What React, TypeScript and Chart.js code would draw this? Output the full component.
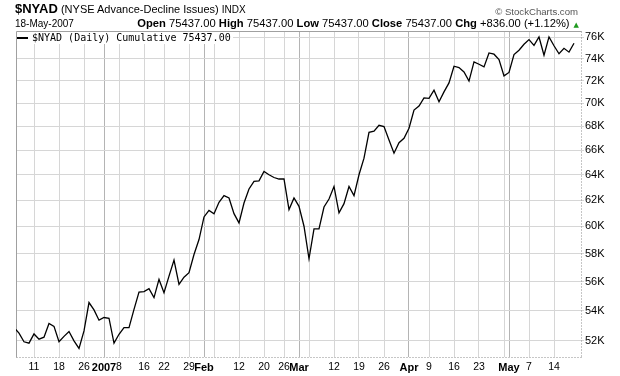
import React, { useEffect, useRef } from "react";
import { Chart, registerables } from "chart.js";

Chart.register(...registerables);

// Trading days (NYSE) shown on the chart
const dates: string[] = [
  "2006-12-05", "2006-12-06", "2006-12-07", "2006-12-08",
  "2006-12-11", "2006-12-12", "2006-12-13", "2006-12-14", "2006-12-15",
  "2006-12-18", "2006-12-19", "2006-12-20", "2006-12-21", "2006-12-22",
  "2006-12-26", "2006-12-27", "2006-12-28", "2006-12-29",
  "2007-01-03", "2007-01-04", "2007-01-05",
  "2007-01-08", "2007-01-09", "2007-01-10", "2007-01-11", "2007-01-12",
  "2007-01-16", "2007-01-17", "2007-01-18", "2007-01-19",
  "2007-01-22", "2007-01-23", "2007-01-24", "2007-01-25", "2007-01-26",
  "2007-01-29", "2007-01-30", "2007-01-31", "2007-02-01", "2007-02-02",
  "2007-02-05", "2007-02-06", "2007-02-07", "2007-02-08", "2007-02-09",
  "2007-02-12", "2007-02-13", "2007-02-14", "2007-02-15", "2007-02-16",
  "2007-02-20", "2007-02-21", "2007-02-22", "2007-02-23",
  "2007-02-26", "2007-02-27", "2007-02-28", "2007-03-01", "2007-03-02",
  "2007-03-05", "2007-03-06", "2007-03-07", "2007-03-08", "2007-03-09",
  "2007-03-12", "2007-03-13", "2007-03-14", "2007-03-15", "2007-03-16",
  "2007-03-19", "2007-03-20", "2007-03-21", "2007-03-22", "2007-03-23",
  "2007-03-26", "2007-03-27", "2007-03-28", "2007-03-29", "2007-03-30",
  "2007-04-02", "2007-04-03", "2007-04-04", "2007-04-05",
  "2007-04-09", "2007-04-10", "2007-04-11", "2007-04-12", "2007-04-13",
  "2007-04-16", "2007-04-17", "2007-04-18", "2007-04-19", "2007-04-20",
  "2007-04-23", "2007-04-24", "2007-04-25", "2007-04-26", "2007-04-27",
  "2007-04-30", "2007-05-01", "2007-05-02", "2007-05-03", "2007-05-04",
  "2007-05-07", "2007-05-08", "2007-05-09", "2007-05-10", "2007-05-11",
  "2007-05-14", "2007-05-15", "2007-05-16", "2007-05-17", "2007-05-18",
];

// $NYAD cumulative advance-decline line (daily close)
const values: number[] = [
  52890, 52500, 51940, 51850,
  52450, 52110, 52240, 53140, 52950,
  51940, 52290, 52610, 52000, 51510,
  52650, 54550, 54050, 53360,
  53540, 53490, 51850,
  52430, 52870, 52870, 54090, 55270,
  55300, 55510, 54890, 56150,
  55230, 56380, 57520, 55800, 56310,
  56620, 57930, 59020, 60710, 61210,
  60960, 61830, 62350, 62170, 60960,
  60260, 61780, 62870, 63470, 63520,
  64260, 64000, 63780, 63660,
  63660, 61270, 62170, 61520, 60010,
  57620, 59810, 59810, 61470, 62090,
  63070, 61020, 61730, 63070, 62350,
  64000, 65340, 67490, 67580, 68080,
  67970, 66850, 65750, 66620, 66990,
  67830, 69390, 69740, 70460,
  70410, 71140, 70110, 70990, 71790,
  73300, 73180, 72780, 71950, 73700,
  73480, 73240, 74530, 74410, 73920,
  72420, 72730, 74380, 74780, 75340,
  75780, 75240, 76030, 74310, 76040,
  75200, 74450, 74960, 74601, 75437,
];

// x-axis gridline dates and their labels ("" = gridline without label)
const tickDates: string[] = [
  "2006-12-11", "2006-12-18", "2006-12-26", "2007-01-03", "2007-01-08",
  "2007-01-16", "2007-01-22", "2007-01-29", "2007-02-01", "2007-02-05",
  "2007-02-12", "2007-02-20", "2007-02-26", "2007-03-01", "2007-03-05",
  "2007-03-12", "2007-03-19", "2007-03-26", "2007-04-02", "2007-04-09",
  "2007-04-16", "2007-04-23", "2007-04-30", "2007-05-01", "2007-05-07",
  "2007-05-14",
];
const tickLabels: string[] = [
  "11", "18", "26", "2007", "8",
  "16", "22", "29", "Feb", "",
  "12", "20", "26", "Mar", "",
  "12", "19", "26", "Apr", "9",
  "16", "23", "", "May", "7",
  "14",
];
const majorDates: string[] = ["2007-01-03", "2007-02-01", "2007-03-01", "2007-04-02", "2007-05-01"];

// y-axis ticks
const yTicks: number[] = [52000, 54000, 56000, 58000, 60000, 62000, 64000, 66000, 68000, 70000, 72000, 74000, 76000];

const tickIdx = tickDates.map((d) => dates.indexOf(d));
const majorIdx = new Set(majorDates.map((d) => dates.indexOf(d)));

const SANS = "'Liberation Sans', Arial, sans-serif";

const framePlugin = {
  id: "frame",
  beforeDatasetsDraw(chart: any) {
    const { ctx, chartArea } = chart;
    const l = chartArea.left + 0.5;
    const t = chartArea.top + 0.5;
    const r = chartArea.right + 0.5;
    const b = chartArea.bottom + 0.5;
    ctx.save();
    ctx.lineWidth = 1;
    ctx.strokeStyle = "#a0a0a0";
    ctx.beginPath();
    ctx.moveTo(l, b);
    ctx.lineTo(l, t);
    ctx.lineTo(r, t);
    ctx.stroke();
    ctx.strokeStyle = "#8c8c8c";
    ctx.setLineDash([1, 2]);
    ctx.beginPath();
    ctx.moveTo(r, t);
    ctx.lineTo(r, b);
    ctx.moveTo(l, b);
    ctx.lineTo(r, b);
    ctx.stroke();
    ctx.restore();
  },
};

export default function App() {
  const ref = useRef<HTMLCanvasElement | null>(null);

  useEffect(() => {
    if (!ref.current) return;
    const chart = new Chart(ref.current, {
      type: "line",
      data: {
        datasets: [
          {
            data: values.map((v, i) => ({ x: i, y: v })),
            borderColor: "#000000",
            borderWidth: 1.3,
            pointRadius: 0,
            tension: 0,
            fill: false,
          },
        ],
      },
      options: {
        animation: false,
        responsive: false,
        maintainAspectRatio: false,
        devicePixelRatio: 1,
        layout: { padding: { left: 16, top: 31, right: 0, bottom: 0 } },
        plugins: { legend: { display: false }, tooltip: { enabled: false }, title: { display: false } },
        scales: {
          x: {
            type: "linear",
            min: 0.4,
            max: 113.4,
            afterBuildTicks: (s: any) => {
              s.ticks = tickIdx.map((v) => ({ value: v }));
            },
            afterFit: (s: any) => {
              s.height = 19;
            },
            ticks: {
              autoSkip: false,
              maxRotation: 0,
              padding: 4,
              color: "#000",
              callback: (v: any) => {
                const k = tickIdx.indexOf(Number(v));
                return k >= 0 ? tickLabels[k] : "";
              },
              font: (c: any) =>
                c.tick && majorIdx.has(c.tick.value)
                  ? { family: SANS, size: 11, weight: "bold" }
                  : { family: SANS, size: 10.5, weight: "normal" },
            },
            grid: {
              drawTicks: false,
              color: (c: any) => (c.tick && majorIdx.has(c.tick.value) ? "#b4b4b4" : "#d6d6d6"),
              lineWidth: 1,
            },
            border: { display: false },
          },
          y: {
            type: "logarithmic",
            position: "right",
            min: 50960,
            max: 76600,
            afterBuildTicks: (s: any) => {
              s.ticks = yTicks.map((v) => ({ value: v }));
            },
            afterFit: (s: any) => {
              s.width = 39;
            },
            ticks: {
              padding: 1,
              color: "#000",
              font: { family: SANS, size: 11 },
              callback: (v: any) => Number(v) / 1000 + "K",
            },
            grid: { color: "#d6d6d6", tickLength: 3, lineWidth: 1 },
            border: { display: false },
          },
        },
      },
      plugins: [framePlugin],
    } as any);
    return () => chart.destroy();
  }, []);

  const row: [string, string][] = [
    ["Open", "75437.00"],
    ["High", "75437.00"],
    ["Low", "75437.00"],
    ["Close", "75437.00"],
    ["Chg", "+836.00 (+1.12%)"],
  ];

  return (
    <div style={{ position: "absolute", left: 0, top: 0, width: 620, height: 376, background: "#fff", overflow: "hidden" }}>
      <canvas ref={ref} width={620} height={376} style={{ position: "absolute", left: 0, top: 0, width: 620, height: 376 }} />
      <div style={{ position: "absolute", left: 15, top: 1, fontFamily: SANS, fontSize: 13, lineHeight: "15px", whiteSpace: "nowrap", color: "#000" }}>
        <span style={{ fontWeight: "bold" }}>$NYAD</span>
        <span style={{ fontSize: 11 }}> (NYSE Advance-Decline Issues) </span>
        <span style={{ fontSize: 10 }}>INDX</span>
      </div>
      <div style={{ position: "absolute", right: 42, top: 7.1, fontFamily: SANS, fontSize: 9.6, lineHeight: 1, color: "#555", whiteSpace: "nowrap" }}>
        © StockCharts.com
      </div>
      <div style={{ position: "absolute", left: 15, top: 18.5, fontFamily: SANS, fontSize: 10, lineHeight: 1, color: "#000", whiteSpace: "nowrap" }}>
        18-May-2007
      </div>
      <div style={{ position: "absolute", right: 41, top: 16.6, fontFamily: SANS, fontSize: 11.2, lineHeight: "13px", whiteSpace: "nowrap", color: "#000" }}>
        {row.map(([k, v], i) => (
          <React.Fragment key={k}>
            {i > 0 ? " " : ""}
            <span style={{ fontWeight: "bold" }}>{k}</span>
            {" " + v}
          </React.Fragment>
        ))}
        <span style={{ fontFamily: "'DejaVu Sans', sans-serif", fontSize: 7, lineHeight: 1, marginLeft: 4, color: "#1f9a1f" }}>▲</span>
      </div>
      <div style={{ position: "absolute", left: 17, top: 32, width: 216, height: 12, background: "#fff" }} />
      <div style={{ position: "absolute", left: 17, top: 37, width: 11, height: 2, background: "#000" }} />
      <div style={{ position: "absolute", left: 32, top: 32.5, fontFamily: "'DejaVu Sans Mono', monospace", fontSize: 10, lineHeight: 1, color: "#000", whiteSpace: "nowrap" }}>
        $NYAD (Daily) Cumulative 75437.00
      </div>
    </div>
  );
}
